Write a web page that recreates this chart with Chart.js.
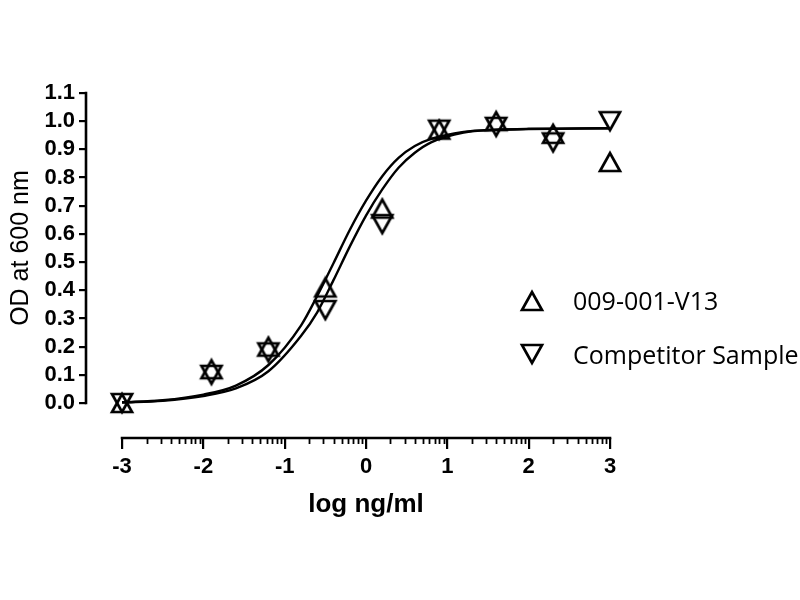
<!DOCTYPE html>
<html>
<head>
<meta charset="utf-8">
<script src="https://cdn.jsdelivr.net/npm/chart.js@4.4.1/dist/chart.umd.min.js"></script>
<style>
html,body{margin:0;padding:0;background:#fff;}
#wrap{width:800px;height:600px;position:relative;}
</style>
</head>
<body>
<div id="wrap"><canvas id="c" width="800" height="600"></canvas></div>
<script>
// ---- data ----
const doseLog = [-3, -1.9, -1.2, -0.5, 0.2, 0.9, 1.6, 2.3, 3];
const odV13 = [0.00, 0.12, 0.20, 0.41, 0.69, 0.97, 1.00, 0.955, 0.855];
const odCompetitor = [0.00, 0.10, 0.18, 0.33, 0.635, 0.97, 0.98, 0.925, 1.00];

const fitX = [-3, -2.5, -2, -1.6, -1.2, -0.8, -0.6, -0.4, -0.2, 0, 0.2, 0.4, 0.6, 0.8, 1.2, 1.6, 2, 3];
const fitV13 = [0.003, 0.010, 0.030, 0.062, 0.135, 0.275, 0.380, 0.496, 0.614, 0.718, 0.805, 0.870, 0.912, 0.937, 0.962, 0.970, 0.973, 0.975];
const fitCompetitor = [0.002, 0.008, 0.025, 0.052, 0.113, 0.238, 0.322, 0.436, 0.555, 0.665, 0.758, 0.835, 0.888, 0.925, 0.960, 0.969, 0.972, 0.975];

const xTickValues = [-3, -2, -1, 0, 1, 2, 3];
const yTickValues = [0, 0.1, 0.2, 0.3, 0.4, 0.5, 0.6, 0.7, 0.8, 0.9, 1.0, 1.1];
const seriesNames = ['009-001-V13', 'Competitor Sample'];
const xTitle = 'log ng/ml';
const yTitle = 'OD at 600 nm';

// ---- marker images (open triangles, centred on their bounding box) ----
function triangleImage(up) {
  const c = document.createElement('canvas');
  c.width = 26; c.height = 24;
  const g = c.getContext('2d');
  g.strokeStyle = '#000';
  g.lineWidth = 2.7;
  g.lineJoin = 'miter';
  g.beginPath();
  if (up) { g.moveTo(3, 21); g.lineTo(13, 3); g.lineTo(23, 21); }
  else { g.moveTo(3, 3); g.lineTo(23, 3); g.lineTo(13, 21); }
  g.closePath();
  g.stroke();
  return c;
}
const upTri = triangleImage(true);
const downTri = triangleImage(false);

const pts = (xs, ys) => xs.map((x, i) => ({x: x, y: ys[i]}));

const AXIS_FONT = '"Liberation Sans", Arial, sans-serif';

const decorPlugin = {
  id: 'decor',
  afterDraw(chart) {
    const ctx = chart.ctx;
    const xs = chart.scales.x, ys = chart.scales.y;
    const area = chart.chartArea;
    ctx.save();
    ctx.strokeStyle = '#000';
    ctx.fillStyle = '#000';
    // y axis line (0 .. 1.1)
    ctx.lineWidth = 2.6;
    ctx.lineCap = 'square';
    ctx.beginPath();
    ctx.moveTo(area.left, ys.getPixelForValue(yTickValues[0]));
    ctx.lineTo(area.left, ys.getPixelForValue(yTickValues[yTickValues.length - 1]));
    ctx.stroke();
    // x axis line (-3 .. 3)
    ctx.beginPath();
    ctx.moveTo(xs.getPixelForValue(xTickValues[0]), area.bottom);
    ctx.lineTo(xs.getPixelForValue(xTickValues[xTickValues.length - 1]), area.bottom);
    ctx.stroke();
    // log minor ticks
    ctx.lineWidth = 1.8;
    ctx.lineCap = 'butt';
    for (let d = xTickValues[0]; d < xTickValues[xTickValues.length - 1]; d++) {
      for (let k = 2; k <= 9; k++) {
        const px = Math.round(xs.getPixelForValue(d + Math.log10(k))) + 0.5;
        ctx.beginPath();
        ctx.moveTo(px, area.bottom);
        ctx.lineTo(px, area.bottom + 6);
        ctx.stroke();
      }
    }
    // axis titles
    ctx.font = 'bold 26px ' + AXIS_FONT;
    ctx.textAlign = 'center';
    ctx.textBaseline = 'alphabetic';
    const xc = (xs.getPixelForValue(xTickValues[0]) + xs.getPixelForValue(xTickValues[xTickValues.length - 1])) / 2;
    ctx.fillText(xTitle, xc, 512);
    const yc = (ys.getPixelForValue(yTickValues[0]) + ys.getPixelForValue(yTickValues[yTickValues.length - 1])) / 2;
    ctx.save();
    ctx.translate(28, yc);
    ctx.rotate(-Math.PI / 2);
    ctx.font = '25px ' + AXIS_FONT;
    ctx.fillText(yTitle, 0, 0);
    ctx.restore();
    // legend
    ctx.font = '25px "Open Sans", sans-serif';
    ctx.textAlign = 'left';
    ctx.drawImage(upTri, 532 - upTri.width / 2, 301 - upTri.height / 2);
    ctx.fillText(seriesNames[0], 573, 310);
    ctx.drawImage(downTri, 532 - downTri.width / 2, 354 - downTri.height / 2);
    ctx.fillText(seriesNames[1], 573, 364);
    ctx.restore();
  }
};

new Chart(document.getElementById('c'), {
  type: 'scatter',
  data: {
    datasets: [
      { label: seriesNames[0] + ' fit', data: pts(fitX, fitV13), showLine: true, borderColor: '#000', borderWidth: 2.4,
        pointRadius: 0, cubicInterpolationMode: 'monotone', fill: false, clip: false },
      { label: seriesNames[1] + ' fit', data: pts(fitX, fitCompetitor), showLine: true, borderColor: '#000', borderWidth: 2.4,
        pointRadius: 0, cubicInterpolationMode: 'monotone', fill: false, clip: false },
      { label: seriesNames[0], data: pts(doseLog, odV13), showLine: false, pointStyle: upTri, pointRadius: 10, clip: false },
      { label: seriesNames[1], data: pts(doseLog, odCompetitor), showLine: false, pointStyle: downTri, pointRadius: 10, clip: false }
    ]
  },
  options: {
    responsive: false,
    animation: false,
    events: [],
    layout: { padding: { left: 0, right: 190, top: 93, bottom: 0 } },
    plugins: { legend: { display: false }, tooltip: { enabled: false } },
    scales: {
      x: {
        type: 'linear', min: -3.443, max: 3,
        afterBuildTicks: s => { s.ticks = xTickValues.map(v => ({ value: v })); },
        afterFit: s => { s.height = 162; },
        border: { display: false },
        grid: { display: true, drawOnChartArea: false, drawTicks: true, tickLength: 11, lineWidth: 2.2, color: '#000' },
        ticks: { autoSkip: false, maxRotation: 0, padding: 5, color: '#000',
          font: { family: AXIS_FONT, size: 22, weight: 'bold' },
          callback: v => String(v) }
      },
      y: {
        type: 'linear', min: -0.124, max: 1.1,
        afterBuildTicks: s => { s.ticks = yTickValues.map(v => ({ value: v })); },
        afterFit: s => { s.width = 86; },
        border: { display: false },
        grid: { display: true, drawOnChartArea: false, drawTicks: true, tickLength: 7, lineWidth: 2.2, color: '#000' },
        ticks: { autoSkip: false, padding: 4, color: '#000',
          font: { family: AXIS_FONT, size: 22, weight: 'bold' },
          callback: v => Number(v).toFixed(1) }
      }
    }
  },
  plugins: [decorPlugin]
});
</script>
</body>
</html>
